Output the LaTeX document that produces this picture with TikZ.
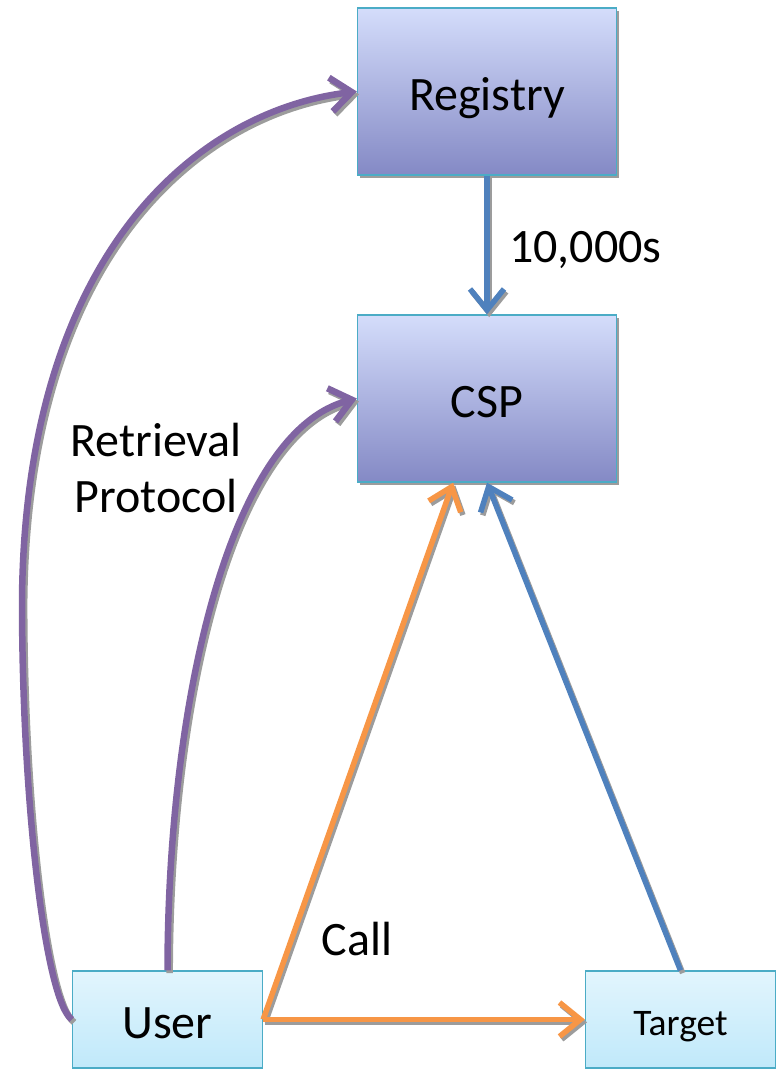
\documentclass[tikz,border=0pt]{standalone}
\usepackage{fontspec}
\setmainfont{Carlito}
\usetikzlibrary{arrows.meta,shadows,calc}
\definecolor{purp}{HTML}{8064A2}
\definecolor{bluel}{HTML}{4F81BD}
\definecolor{orng}{HTML}{F79646}
\definecolor{aqua}{HTML}{4BACC6}
\definecolor{shgray}{HTML}{9C9C9C}
\definecolor{lavtop}{RGB}{212,221,251}
\definecolor{lavbot}{RGB}{132,137,197}
\definecolor{cyantop}{RGB}{226,245,253}
\definecolor{cyanbot}{RGB}{192,233,250}
\tikzset{
  bigfont/.style={font=\fontsize{48pt}{56pt}\selectfont},
  bigbox/.style={draw=aqua, line width=1.3pt, top color=lavtop, bottom color=lavbot,
    minimum width=259pt, minimum height=167pt, inner sep=0pt,
    drop shadow={shadow xshift=2pt, shadow yshift=-3pt, fill=shgray, opacity=1},
    bigfont, text height=38pt, text depth=0pt},
  smallbox/.style={draw=aqua, line width=1.3pt, top color=cyantop, bottom color=cyanbot,
    minimum width=190pt, minimum height=97pt, inner sep=0pt},
  lbl/.style={bigfont, inner sep=0pt},
  conn/.style={line width=5.5pt, -{Straight Barb[length=21pt,width=34pt]}},
  thick conn/.style={conn, line width=6.5pt},
}
\newcommand\connectors[3]{%
  \draw[conn, #2] (reg.south) -- (csp.north);
  \draw[thick conn, #1] (user.west) .. controls (45,1000) and (22,800) .. (bend)
     .. controls (25,250) and (200,110) .. (reg.west);
  \draw[thick conn, #1] (user.north) .. controls (168,700) and (230,430) .. (csp.west);
  \draw[conn, #3] (user.east) -- (cspin);
  \draw[conn, #3] (user.east) -- (tgt.west);
  \draw[conn, #2] (tgt.north) -- (csp.south);
}
\begin{document}
\begin{tikzpicture}[x=1pt,y=-1pt]
\useasboundingbox (0,0) rectangle (777,1069);
\node[bigbox] (reg) at (487,91.5) {Registry};
\node[bigbox] (csp) at (487,398.5) {CSP};
\node[smallbox, bigfont, text height=38pt, text depth=0pt] (user) at (167.5,1019.5) {User};
\node[smallbox, font=\fontsize{37.5pt}{44pt}\selectfont, text height=31pt, text depth=0pt] (tgt) at (680.5,1019.5) {Target};
\coordinate (bend) at (22,600);
\coordinate (cspin) at ($(csp.south west)!0.37!(csp.south east)$);
% connector shadows
\begin{scope}[transform canvas={shift={(2.2pt,-2.8pt)}}]
  \connectors{shgray}{shgray}{shgray}
\end{scope}
% connectors
\connectors{purp}{bluel}{orng}
% labels
\node[bigfont, anchor=base west, inner sep=0pt] (num) at (509,262) {10,000s};
\node[lbl, align=center] (rp) at (156,468) {Retrieval\\Protocol};
\node[lbl, anchor=base] (call) at (357,955) {Call};
\end{tikzpicture}
\end{document}
